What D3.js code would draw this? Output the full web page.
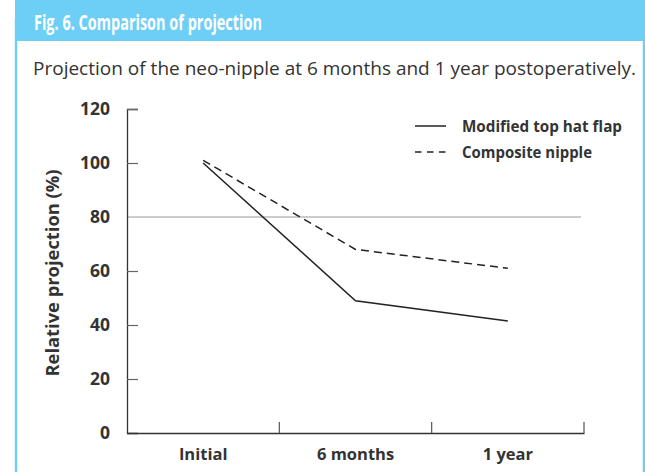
<!DOCTYPE html>
<html>
<head>
<meta charset="utf-8">
<script src="https://cdn.jsdelivr.net/npm/d3@7"></script>
<style>
  body { margin: 0; background: #fff; }
  text { font-family: 'Open Sans', 'Noto Sans', sans-serif; }
</style>
</head>
<body>
<svg id="chart" width="645" height="472"></svg>
<script>
// data
let categories = ['Initial', '6 months', '1 year'];
let topHat = [100, 49, 41.5];
let composite = [101, 68, 61];
let seriesNames = ['Modified top hat flap', 'Composite nipple'];
let yTicks = [0, 20, 40, 60, 80, 100, 120];

let svg = d3.select('#chart');

// frame + header band
svg.append('rect')
    .attr('x', 16).attr('y', 20)
    .attr('width', 628).attr('height', 460)
    .attr('fill', '#fff')
    .attr('stroke', '#6dcff6')
    .attr('stroke-width', 2.5);

svg.append('rect')
    .attr('x', 15).attr('y', 0)
    .attr('width', 630).attr('height', 41)
    .attr('fill', '#6dcff6');

svg.append('text')
    .attr('x', 34).attr('y', 30)
    .attr('fill', '#fff')
    .attr('font-size', 21)
    .attr('font-weight', 'bold')
    .attr('textLength', 228)
    .attr('lengthAdjust', 'spacingAndGlyphs')
    .text('Fig. 6. Comparison of projection');

svg.append('text')
    .attr('x', 33).attr('y', 75)
    .attr('fill', '#333')
    .attr('font-size', 18)
    .attr('textLength', 603)
    .attr('lengthAdjust', 'spacingAndGlyphs')
    .text('Projection of the neo-nipple at 6 months and 1 year postoperatively.');

// plot area
let plotLeft = 127, plotRight = 584, plotTop = 109, plotBottom = 433;

let x = d3.scaleBand().domain(categories).range([plotLeft, plotRight]);
let y = d3.scaleLinear().domain([0, 120]).range([plotBottom, plotTop]);

let g = svg.append('g');

// reference line at 80
g.append('line')
    .attr('x1', plotLeft).attr('x2', 581)
    .attr('y1', y(80)).attr('y2', y(80))
    .attr('stroke', '#9a9a9a')
    .attr('stroke-width', 1.2);

// y axis, ticks pointing inward
let yAxis = g.append('g')
    .attr('transform', 'translate(' + plotLeft + ',0)')
    .call(d3.axisLeft(y)
        .tickValues(yTicks)
        .tickSize(-11)
        .tickPadding(17)
        .tickFormat(d3.format('d')));

yAxis.select('.domain').attr('stroke', '#333').attr('stroke-width', 1.3);
yAxis.selectAll('.tick line')
    .attr('stroke', '#666')
    .attr('stroke-width', 1.2)
    .filter(d => d === 0 || d === 80)
    .remove();
yAxis.selectAll('.tick text')
    .attr('font-size', 17.5)
    .attr('font-weight', 'bold')
    .attr('fill', '#333')
    .attr('font-family', "'Open Sans', sans-serif");

// x axis
let xAxis = g.append('g')
    .attr('transform', 'translate(0,' + plotBottom + ')')
    .call(d3.axisBottom(x).tickSize(0).tickPadding(15));

xAxis.select('.domain').attr('stroke', '#333').attr('stroke-width', 1.3);
xAxis.selectAll('.tick text')
    .attr('font-size', 16.5)
    .attr('font-weight', 'bold')
    .attr('fill', '#333')
    .attr('font-family', "'Open Sans', sans-serif");

// band boundary ticks (pointing up)
g.selectAll('.band-tick')
    .data(categories.slice(1).concat(['end']))
    .enter()
    .append('line')
    .attr('class', 'band-tick')
    .attr('x1', d => d === 'end' ? x.range()[1] : x(d))
    .attr('x2', d => d === 'end' ? x.range()[1] : x(d))
    .attr('y1', plotBottom)
    .attr('y2', plotBottom - 11)
    .attr('stroke', '#555')
    .attr('stroke-width', 1.2);

// the two series
let line = d3.line()
    .x((d, i) => x(categories[i]) + x.bandwidth() / 2)
    .y(d => y(d));

g.append('path')
    .datum(topHat)
    .attr('d', line)
    .attr('fill', 'none')
    .attr('stroke', '#222')
    .attr('stroke-width', 1.5);

g.append('path')
    .datum(composite)
    .attr('d', line)
    .attr('fill', 'none')
    .attr('stroke', '#222')
    .attr('stroke-width', 1.5)
    .attr('stroke-dasharray', '8,5');

// legend
let legend = g.selectAll('.legend')
    .data(seriesNames)
    .enter()
    .append('g')
    .attr('class', 'legend')
    .attr('transform', (d, i) => 'translate(415,' + (126 + i * 26) + ')');

legend.append('line')
    .attr('x1', 0).attr('x2', 31)
    .attr('y1', 0).attr('y2', 0)
    .attr('stroke', '#222')
    .attr('stroke-width', 1.5)
    .attr('stroke-dasharray', (d, i) => i === 1 ? '6.5,5.5' : null);

legend.append('text')
    .attr('x', 47).attr('y', 6)
    .attr('font-size', 16)
    .attr('font-weight', 'bold')
    .attr('fill', '#333')
    .attr('textLength', (d, i) => i === 0 ? 160 : 130)
    .attr('lengthAdjust', 'spacingAndGlyphs')
    .text(d => d);

// y axis title
svg.append('text')
    .attr('transform', 'translate(59,273) rotate(-90)')
    .attr('text-anchor', 'middle')
    .attr('font-size', 18)
    .attr('font-weight', 'bold')
    .attr('fill', '#333')
    .attr('textLength', 207)
    .attr('lengthAdjust', 'spacingAndGlyphs')
    .text('Relative projection (%)');
</script>
</body>
</html>
